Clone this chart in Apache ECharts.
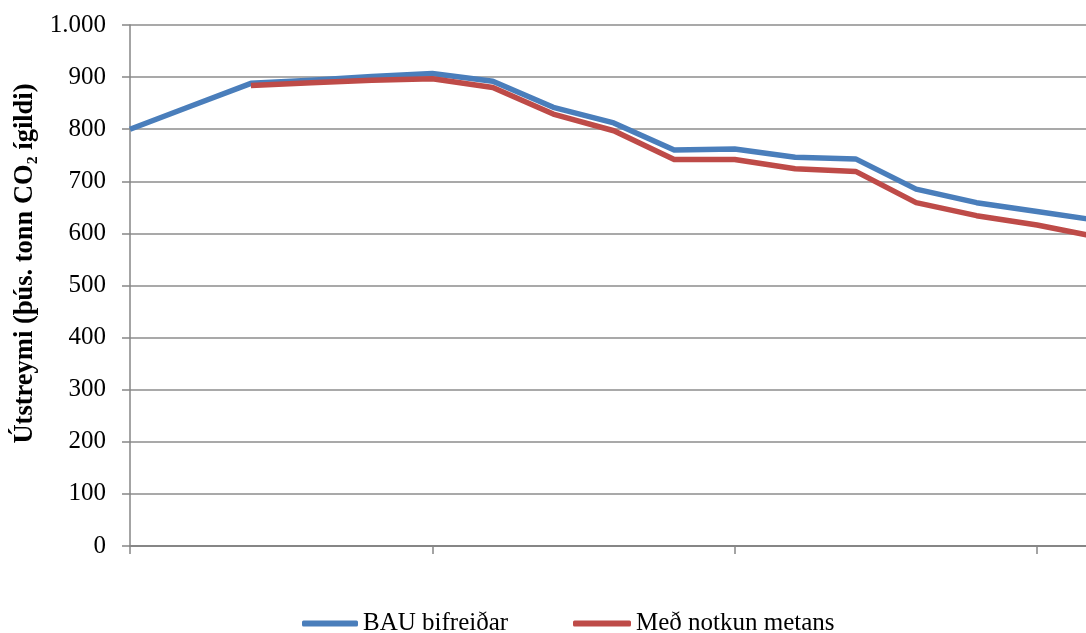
<!DOCTYPE html>
<html>
<head>
<meta charset="utf-8">
<script src="https://cdn.jsdelivr.net/npm/echarts@6/dist/echarts.min.js"></script>
<style>
html,body{margin:0;padding:0;background:#fff;overflow:hidden;width:1086px;height:633px;}
#chart{width:1098px;height:633px;}
</style>
</head>
<body>
<div id="chart"></div>
<script>
// Categories (periods along x axis; labels not shown in the reference)
var categories = ['1','2','3','4','5','6','7','8','9','10','11','12','13','14','15','16','17'];
// Series values (þús. tonn CO2 ígildi)
var bauValues = [800, 844, 888, 894, 901, 907, 892, 842, 812, 760, 762, 746, 743, 685, 659, 642, 625];
var metanValues = [null, null, 884, 889, 894, 897, 880, 829, 797, 742, 742, 724, 719, 659, 634, 616, 593];
// Y tick values
var yTicks = [0, 100, 200, 300, 400, 500, 600, 700, 800, 900, 1000];
var seriesNames = ['BAU bifreiðar', 'Með notkun metans'];
var yAxisTitle = 'Útstreymi (þús. tonn CO₂ ígildi)';

var serif = '"Liberation Serif", "Times New Roman", serif';
var axisGray = '#868686';

var chart = echarts.init(document.getElementById('chart'), null, {renderer: 'canvas'});
chart.setOption({
  animation: false,
  backgroundColor: '#ffffff',
  grid: {left: 130, right: 0.5, top: 25, bottom: 87, containLabel: false},
  legend: [{
    data: [seriesNames[0]],
    left: 302, top: 611, padding: 0,
    itemWidth: 56, itemHeight: 6, icon: 'roundRect',
    textStyle: {fontFamily: serif, fontSize: 25, color: '#000'},
    selectedMode: false
  }, {
    data: [seriesNames[1]],
    left: 573, top: 611, padding: 0,
    itemWidth: 58, itemHeight: 6, icon: 'roundRect',
    textStyle: {fontFamily: serif, fontSize: 25, color: '#000'},
    selectedMode: false
  }],
  xAxis: {
    type: 'category',
    data: categories,
    boundaryGap: false,
    axisLine: {show: true, lineStyle: {color: axisGray, width: 2}},
    axisTick: {show: true, interval: 4, length: 8, lineStyle: {color: axisGray, width: 1.5}},
    axisLabel: {show: false},
    splitLine: {show: false}
  },
  yAxis: {
    type: 'value',
    min: yTicks[0],
    max: yTicks[yTicks.length - 1],
    interval: 100,
    name: yAxisTitle,
    nameLocation: 'middle',
    nameGap: 87,
    nameRotate: 90,
    nameTextStyle: {fontFamily: serif, fontSize: 26.5, fontWeight: 'bold', color: '#000', padding: [0, 0, 0, 44]},
    axisLine: {show: true, lineStyle: {color: axisGray, width: 1.5}},
    axisTick: {show: true, length: 8, lineStyle: {color: axisGray, width: 1.5}},
    axisLabel: {
      fontFamily: serif, fontSize: 25, color: '#000', margin: 24,
      formatter: function (v) { return v >= 1000 ? (v / 1000) + '.' + String(v % 1000).padStart(3, '0') : String(v); }
    },
    splitLine: {show: true, lineStyle: {color: '#8c8c8c', width: 1.5}}
  },
  series: [{
    name: seriesNames[0],
    type: 'line',
    data: bauValues,
    showSymbol: false, symbol: 'none',
    color: '#4a7ebb',
    lineStyle: {width: 5.5, join: 'round'},
    z: 2
  }, {
    name: seriesNames[1],
    type: 'line',
    data: metanValues,
    showSymbol: false, symbol: 'none',
    color: '#be4b48',
    lineStyle: {width: 5.5, join: 'round'},
    z: 3
  }]
});
</script>
</body>
</html>
